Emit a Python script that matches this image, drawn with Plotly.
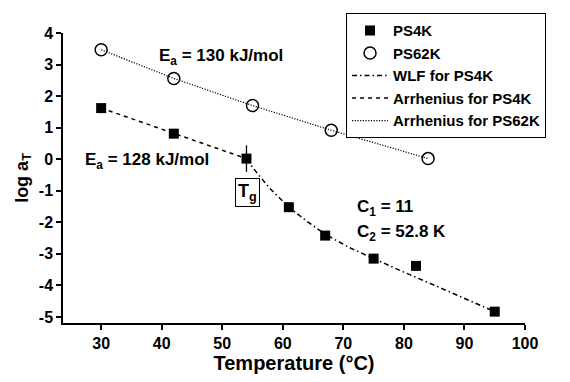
import plotly.graph_objects as go

# PS4K data
ps4k_T = [30, 42, 54, 61, 67, 75, 82, 95]
ps4k_log = [1.62, 0.81, 0.02, -1.52, -2.42, -3.15, -3.38, -4.83]
ps4k_err = [0, 0, 0.42, 0, 0, 0, 0, 0]

# PS62K data
ps62k_T = [30, 42, 55, 68, 84]
ps62k_log = [3.47, 2.56, 1.70, 0.92, 0.02]

# fitted curves
wlf_T = [54, 56, 58, 61, 64, 67, 71, 75, 80, 85, 90, 95]
wlf_log = [0.0, -0.5, -0.95, -1.52, -1.97, -2.38, -2.8, -3.15, -3.58, -3.99, -4.4, -4.83]
arr4_T = [30, 42, 54]
arr4_log = [1.62, 0.81, 0.02]
arr62_T = [30, 42, 55, 68, 84]
arr62_log = [3.47, 2.56, 1.70, 0.92, 0.02]

# tick labels
x_ticks = [30, 40, 50, 60, 70, 80, 90, 100]
y_ticks = [-5, -4, -3, -2, -1, 0, 1, 2, 3, 4]
y_ticklabels = ["-5", "-4", "-3", "-2", "-1", "0", "1", "2", "3", "4"]

FONT = "Liberation Sans, Arial, sans-serif"

fig = go.Figure()
# lines first (drawn below markers), legend order set by legendrank
fig.add_trace(go.Scatter(x=wlf_T, y=wlf_log, mode="lines", name="WLF for PS4K", legendrank=3,
                         line=dict(color="black", width=1.5, dash="5px,3px,1.5px,3px")))
fig.add_trace(go.Scatter(x=arr4_T, y=arr4_log, mode="lines", name="Arrhenius for PS4K", legendrank=4,
                         line=dict(color="black", width=1.5, dash="4px,4px")))
fig.add_trace(go.Scatter(x=arr62_T, y=arr62_log, mode="lines", name="Arrhenius for PS62K", legendrank=5,
                         line=dict(color="black", width=1.2, dash="1.2px,1.5px")))
fig.add_trace(go.Scatter(x=ps4k_T, y=ps4k_log, mode="markers", name="PS4K", legendrank=1,
                         marker=dict(symbol="square", size=10, color="black"),
                         error_y=dict(type="data", array=ps4k_err, width=0, thickness=1.3, color="black")))
fig.add_trace(go.Scatter(x=ps62k_T, y=ps62k_log, mode="markers", name="PS62K", legendrank=2,
                         marker=dict(symbol="circle-open", size=12, color="black", line=dict(width=1.5))))

afont = dict(family=FONT, size=17, color="black", weight="bold")
fig.add_annotation(x=39.2, y=3.25, text="E<sub>a</sub> = 130 kJ/mol", showarrow=False,
                   xanchor="left", yanchor="middle", font=afont)
fig.add_annotation(x=27.0, y=-0.05, text="E<sub>a</sub> = 128 kJ/mol", showarrow=False,
                   xanchor="left", yanchor="middle", font=afont)
fig.add_annotation(x=71.9, y=-1.55, text="C<sub>1</sub> = 11", showarrow=False,
                   xanchor="left", yanchor="middle", font=afont)
fig.add_annotation(x=71.9, y=-2.33, text="C<sub>2</sub> = 52.8 K", showarrow=False,
                   xanchor="left", yanchor="middle", font=afont)
fig.add_annotation(x=54.1, y=-1.05, text="T<sub>g</sub>", showarrow=False,
                   xanchor="center", yanchor="middle", bordercolor="black", borderwidth=1,
                   borderpad=2, bgcolor="white",
                   font=dict(family=FONT, size=18, color="black"))

fig.update_layout(
    width=570, height=382,
    margin=dict(l=63, r=45, t=33, b=56),
    paper_bgcolor="white", plot_bgcolor="white",
    font=dict(family=FONT, size=16, color="black", weight="bold"),
    showlegend=True,
    legend=dict(x=0.6126, y=1.068, xanchor="left", yanchor="top",
                bordercolor="black", borderwidth=1, bgcolor="white",
                font=dict(family=FONT, size=15, color="black", weight="bold"),
                itemwidth=36, tracegroupgap=0,
                traceorder="normal"),
    xaxis=dict(range=[23.7, 100], tickvals=x_ticks,
               showgrid=False, zeroline=False, showline=True, linecolor="black", linewidth=1.5,
               ticks="outside", ticklen=5, tickwidth=1.5, tickcolor="black",
               title=dict(text="Temperature (°C)", font=dict(family=FONT, size=20, weight="bold"), standoff=4),
               tickfont=dict(family=FONT, size=16, weight="bold")),
    yaxis=dict(range=[-5.19, 4], tickvals=y_ticks, ticktext=y_ticklabels,
               showgrid=False, zeroline=False, showline=True, linecolor="black", linewidth=1.5,
               ticks="outside", ticklen=5, tickwidth=1.5, tickcolor="black",
               title=dict(text="log a<sub>T</sub>", font=dict(family=FONT, size=18, weight="bold"), standoff=6),
               tickfont=dict(family=FONT, size=16, weight="bold")),
)

fig.write_html("out.html")
